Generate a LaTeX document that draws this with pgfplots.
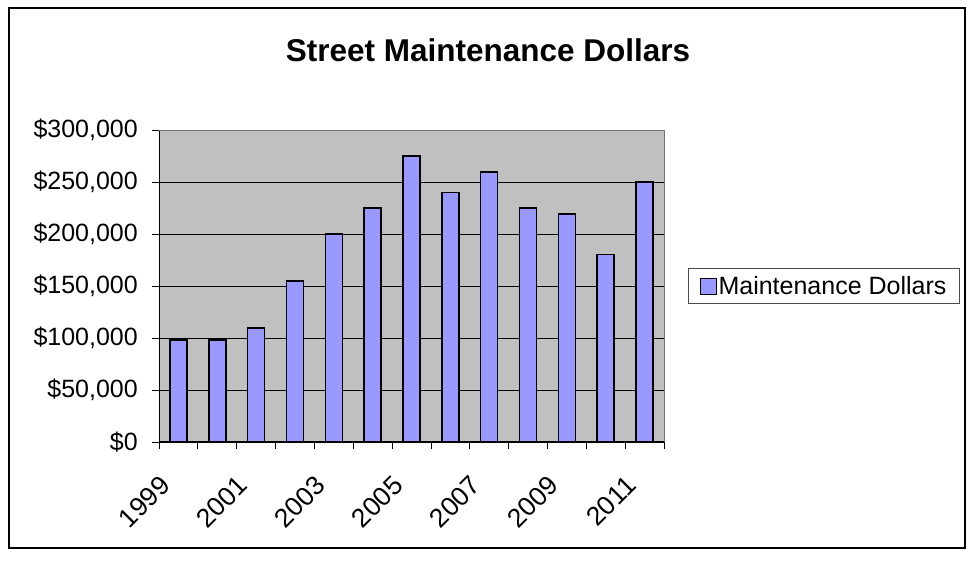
\documentclass[border=0pt]{standalone}
\usepackage{fontspec}
\setmainfont{Liberation Sans}
\usepackage{pgfplots}
\pgfplotsset{compat=1.18}
\definecolor{barblue}{HTML}{9999FF}
\definecolor{plotgray}{HTML}{C0C0C0}
\begin{document}
\begin{tikzpicture}[x=1pt,y=1pt]
\useasboundingbox (0,0) rectangle (973,561);
\fill[white] (0,0) rectangle (973,561);
\draw[line width=2pt] (9,13) rectangle (965,553);
\node[font=\fontsize{31.5}{34}\selectfont\bfseries] at (488,511) {Street Maintenance Dollars};
\begin{axis}[
  at={(159pt,119pt)}, anchor=south west,
  scale only axis, width=505pt, height=312pt,
  ybar, bar width=17pt, bar shift=0pt,
  xmin=-0.5, xmax=12.5, ymin=0, ymax=300000,
  axis background/.style={fill=plotgray},
  axis lines=left, axis line style={-, black, line width=1pt},
  xtick={0,2,4,6,8,10,12},
  xticklabels={1999,2001,2003,2005,2007,2009,2011},
  minor xtick={-0.5,0.5,...,12.5},
  major x tick style={draw=none},
  minor x tick style={black, line width=0.8pt},
  minor tick length=7pt,
  major tick length=7pt,
  tick align=outside,
  ytick={0,50000,100000,150000,200000,250000,300000},
  yticklabels={{\$0},{\$50,000},{\$100,000},{\$150,000},{\$200,000},{\$250,000},{\$300,000}},
  y tick style={black, line width=0.8pt},
  ymajorgrids, grid style={black, line width=0.8pt},
  scaled y ticks=false,
  tick label style={font=\fontsize{25}{28}\selectfont},
  yticklabel style={inner sep=0pt, xshift=-14pt},
  xticklabel style={font=\fontsize{26.5}{28}\selectfont, xshift=-20pt, yshift=-25pt, rotate=45, anchor=north east, inner sep=0pt},
  legend style={at={(rel axis cs:1.317,0.5)}, anchor=center, draw=black!70, fill=white,
    font=\fontsize{25}{28}\selectfont, inner xsep=11pt, inner ysep=6pt, line width=0.8pt},
  legend image code/.code={\draw[fill=barblue, draw=black, line width=0.8pt] (0pt,-8pt) rectangle (16pt,8pt);},
  after end axis/.code={\draw[black!55, line width=0.8pt] (rel axis cs:0,1) -- (rel axis cs:1,1) -- (rel axis cs:1,0);},
  clip=false,
]
\addplot[fill=barblue, draw=black, line width=1.5pt] coordinates {
(0,98000) (1,98000) (2,109500) (3,155000) (4,200000) (5,225000) (6,275000)
(7,240000) (8,259500) (9,225000) (10,219000) (11,180500) (12,250000)};
\addlegendentry{Maintenance Dollars}
\end{axis}
\end{tikzpicture}
\end{document}
